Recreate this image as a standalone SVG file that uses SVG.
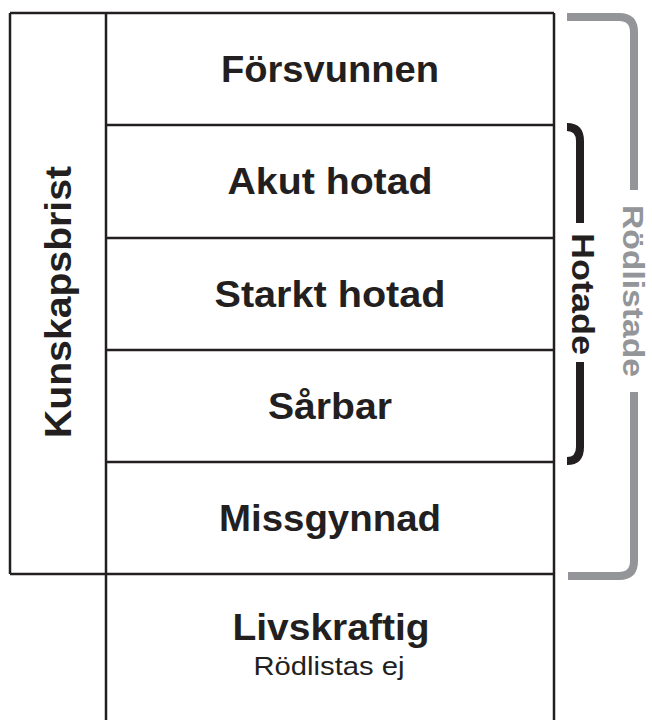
<svg xmlns="http://www.w3.org/2000/svg" width="652" height="720" viewBox="0 0 652 720">
<style>
.grid{stroke:#231f20;stroke-width:2.5;fill:none}
.lbl{font-family:"Liberation Sans",Arial,sans-serif;font-weight:bold;font-size:36px;fill:#231f20;text-anchor:middle}
.sub{font-family:"Liberation Sans",Arial,sans-serif;font-size:26px;fill:#231f20;text-anchor:middle}
.side{font-family:"Liberation Sans",Arial,sans-serif;font-weight:bold;font-size:32px;text-anchor:middle}
.br-gray{stroke:#939598;stroke-width:8;fill:none}
.br-black{stroke:#231f20;stroke-width:8;fill:none}
</style>
<rect width="652" height="720" fill="#ffffff"/>
<g id="connectors">
<path class="grid" d="M10,13 H554 M10,574 H554 M10,13 V574 M106,13 V720 M554,13 V720 M106,125 H554 M106,238 H554 M106,350 H554 M106,462 H554"/>
<path class="br-gray" d="M567,17 H619 Q634,17 634,32 V190 M634,392 V561 Q634,576 619,576 H568"/>
<path class="br-black" d="M567,127 Q580,127 580,141 V223 M580,362 V447 Q580,461 567,461"/>
</g>
<g id="kunskapsbrist"><text class="lbl" transform="translate(71,302) rotate(-90)" textLength="272" lengthAdjust="spacingAndGlyphs">Kunskapsbrist</text></g>
<g id="forsvunnen"><text class="lbl" x="330" y="82" textLength="218" lengthAdjust="spacingAndGlyphs">Försvunnen</text></g>
<g id="akut-hotad"><text class="lbl" x="330" y="194" textLength="205" lengthAdjust="spacingAndGlyphs">Akut hotad</text></g>
<g id="starkt-hotad"><text class="lbl" x="330" y="307" textLength="231" lengthAdjust="spacingAndGlyphs">Starkt hotad</text></g>
<g id="sarbar"><text class="lbl" x="330" y="419" textLength="124" lengthAdjust="spacingAndGlyphs">Sårbar</text></g>
<g id="missgynnad"><text class="lbl" x="330" y="531" textLength="222" lengthAdjust="spacingAndGlyphs">Missgynnad</text></g>
<g id="livskraftig">
<text class="lbl" x="331" y="640" textLength="197" lengthAdjust="spacingAndGlyphs">Livskraftig</text>
<text class="sub" x="329" y="675" textLength="151" lengthAdjust="spacingAndGlyphs">Rödlistas ej</text>
</g>
<g id="hotade"><text class="side" fill="#231f20" transform="translate(572,294) rotate(90)" textLength="122" lengthAdjust="spacingAndGlyphs">Hotade</text></g>
<g id="rodlistade"><text class="side" fill="#939598" style="font-size:30px" transform="translate(623,291) rotate(90)" textLength="172" lengthAdjust="spacingAndGlyphs">Rödlistade</text></g>
</svg>
